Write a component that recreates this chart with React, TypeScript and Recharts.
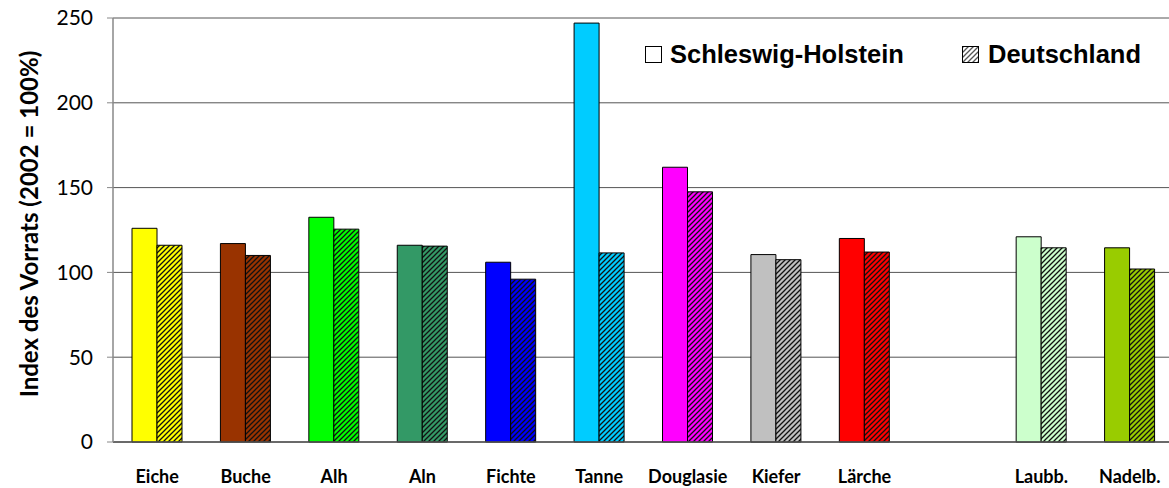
import { BarChart, Bar, XAxis, YAxis, CartesianGrid, Cell } from "recharts";

// Baumarten / Artengruppen (leere Kategorie als Abstand vor den Summen)
const species = [
  "Eiche",
  "Buche",
  "Alh",
  "Aln",
  "Fichte",
  "Tanne",
  "Douglasie",
  "Kiefer",
  "Lärche",
  "",
  "Laubb.",
  "Nadelb.",
];

const schleswigHolstein = [126, 117, 132.5, 116, 106, 247, 162, 110.5, 120, null, 121, 114.5];
const deutschland = [116, 110, 125.5, 115.5, 96, 111.5, 147.5, 107.5, 112, null, 114.5, 102];

const speciesColors = [
  "#FFFF00",
  "#993300",
  "#00FF00",
  "#339966",
  "#0000FF",
  "#00CCFF",
  "#FF00FF",
  "#C0C0C0",
  "#FF0000",
  "#FFFFFF",
  "#CCFFCC",
  "#99CC00",
];

const yTicks = [0, 50, 100, 150, 200, 250];

const data = species.map((name, i) => ({
  name,
  sh: schleswigHolstein[i],
  de: deutschland[i],
}));

const hatchId = (i: number) => `hatch-${i}`;
const HATCH_PATH = "M-1,1 l2,-2 M0,5 l5,-5 M4,6 l2,-2";

function Hatch({ id, color, line = "#111" }: { id: string; color: string; line?: string }) {
  return (
    <pattern id={id} patternUnits="userSpaceOnUse" width={5} height={5}>
      <rect width={5} height={5} fill={color} />
      <path d={HATCH_PATH} stroke={line} strokeWidth={1.3} />
    </pattern>
  );
}

const legendFont = {
  fontFamily: "'Liberation Sans', Arial, sans-serif",
  fontWeight: 700,
  fontSize: 25.5,
  fill: "#000",
};

// Legende oben rechts als eigene SVG-Ebene über dem Diagramm
function LegendOverlay() {
  return (
    <svg
      width={1169}
      height={488}
      style={{ position: "absolute", left: 0, top: 0, pointerEvents: "none" }}
    >
      <defs>
        <Hatch id="legend-hatch" color="#fff" line="#555" />
      </defs>
      <rect x={645.5} y={46.5} width={16} height={16} fill="#fff" stroke="#000" />
      <text x={670} y={63} style={legendFont}>
        Schleswig-Holstein
      </text>
      <rect x={962.5} y={46.5} width={16} height={16} fill="url(#legend-hatch)" stroke="#000" />
      <text x={988} y={63} style={legendFont}>
        Deutschland
      </text>
    </svg>
  );
}

export default function App() {
  return (
    <div
      style={{
        position: "absolute",
        left: 0,
        top: 0,
        width: 1169,
        height: 488,
        overflow: "hidden",
        background: "#fff",
      }}
    >
      <BarChart
        width={1180}
        height={488}
        data={data}
        margin={{ top: 18, right: 6, bottom: 0, left: 0 }}
        barGap={0}
        barSize={25}
      >
        <defs>
          {speciesColors.map((c, i) => (
            <Hatch key={i} id={hatchId(i)} color={c} />
          ))}
        </defs>
        <CartesianGrid vertical={false} stroke="#555" strokeWidth={1} />
        <XAxis
          dataKey="name"
          height={46}
          interval={0}
          tickLine={false}
          tickSize={6}
          tickMargin={22}
          axisLine={{ stroke: "#555", strokeWidth: 1.5 }}
          tick={{
            fontFamily: "Lato, 'Open Sans', sans-serif",
            fontWeight: 700,
            fontSize: 18,
            fill: "#000",
          }}
        />
        <YAxis
          width={113}
          domain={[0, 250]}
          ticks={yTicks}
          tickSize={6}
          tickMargin={14}
          axisLine={{ stroke: "#888", strokeWidth: 1.5 }}
          tickLine={{ stroke: "#888" }}
          tick={{ fontFamily: "Lato, 'Open Sans', sans-serif", fontSize: 21, fill: "#000" }}
          label={{
            value: "Index des Vorrats (2002 = 100%)",
            angle: -90,
            position: "insideLeft",
            dx: 24,
            dy: -6,
            style: {
              fontFamily: "Lato, 'Open Sans', sans-serif",
              fontWeight: 700,
              fontSize: 24,
              fill: "#000",
              textAnchor: "middle",
            },
          }}
        />
        <Bar dataKey="sh" name="Schleswig-Holstein" isAnimationActive={false} stroke="#000" strokeWidth={1}>
          {data.map((_, i) => (
            <Cell key={i} fill={speciesColors[i]} />
          ))}
        </Bar>
        <Bar dataKey="de" name="Deutschland" isAnimationActive={false} stroke="#000" strokeWidth={1}>
          {data.map((_, i) => (
            <Cell key={i} fill={`url(#${hatchId(i)})`} />
          ))}
        </Bar>
      </BarChart>
      <LegendOverlay />
    </div>
  );
}
